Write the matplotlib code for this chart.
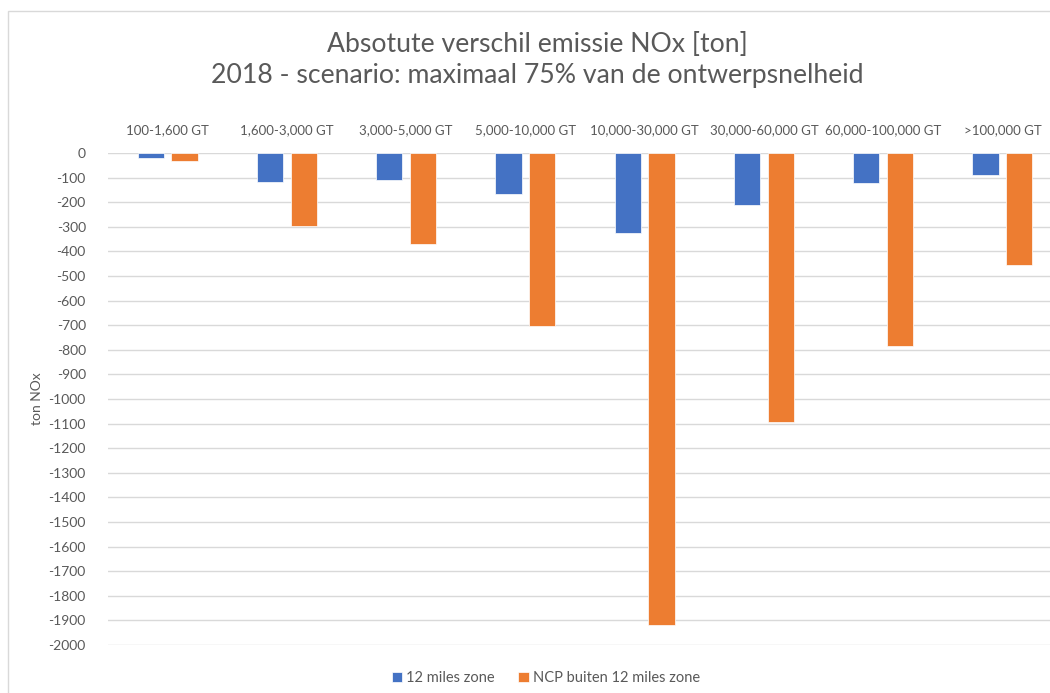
import matplotlib
matplotlib.use("Agg")
import matplotlib.pyplot as plt
import numpy as np
from matplotlib.patches import Rectangle
from matplotlib.ticker import FuncFormatter

plt.rcParams['font.family'] = ['Lato', 'DejaVu Sans']

categories = ["100-1,600 GT", "1,600-3,000 GT", "3,000-5,000 GT", "5,000-10,000 GT",
              "10,000-30,000 GT", "30,000-60,000 GT", "60,000-100,000 GT", ">100,000 GT"]
zone_12 = [-22, -118, -111, -168, -327, -211, -121, -89]
ncp_buiten = [-33, -295, -369, -702, -1918, -1093, -785, -455]
series_names = ["12 miles zone", "NCP buiten 12 miles zone"]

BLUE = "#4472C4"
ORANGE = "#ED7D31"
GREY = "#595959"
GRID = "#d9d9d9"

W, H = 1050, 693
fig = plt.figure(figsize=(W / 100, H / 100), dpi=100)

# chart border (Excel chart area)
fig.patches.append(Rectangle((8 / W, -0.05), 1.2, (H - 11) / H + 0.05,
                             transform=fig.transFigure, fill=False,
                             edgecolor=GRID, lw=1))

ax = fig.add_axes([108 / W, 1 - 645 / H, 954 / W, (645 - 153) / H])

x = np.arange(len(categories))
bw = 0.22
off = 0.142
ax.bar(x - off, zone_12, bw, color=BLUE, edgecolor="white", lw=0.5,
       label=series_names[0], zorder=3)
ax.bar(x + off, ncp_buiten, bw, color=ORANGE, edgecolor="white", lw=0.5,
       label=series_names[1], zorder=3)

ax.set_xlim(-0.5, len(categories) - 0.5)
ax.set_ylim(-2000, 0)
ax.set_yticks(np.arange(-2000, 1, 100))
ax.yaxis.set_major_formatter(FuncFormatter(lambda v, p: "%d" % v))
ax.grid(axis="y", color=GRID, lw=1, zorder=0)
for s in ax.spines.values():
    s.set_visible(False)

ax.xaxis.tick_top()
ax.set_xticks(x)
ax.set_xticklabels(categories)
ax.tick_params(axis="x", length=0, pad=12, labelsize=9.5, labelcolor=GREY)
ax.tick_params(axis="y", length=0, pad=16, labelsize=10, labelcolor=GREY)

fig.text(37 / W, 1 - 399 / H, "ton NOx", rotation=90, ha="center", va="center",
         fontsize=10, color=GREY)

fig.text(537 / W, 1 - 60 / H,
         "Absotute verschil emissie NOx [ton]\n2018 - scenario: maximaal 75% van de ontwerpsnelheid",
         ha="center", va="center", fontsize=19.2, color=GREY, linespacing=1.3)

fig.legend(loc="center", bbox_to_anchor=(546 / W, 1 - 678 / H), ncol=2,
           frameon=False, fontsize=10.5, handlelength=0.7, handleheight=0.7,
           handletextpad=0.3, columnspacing=1.6, labelcolor=GREY)

fig.savefig("out.png", dpi=100)
